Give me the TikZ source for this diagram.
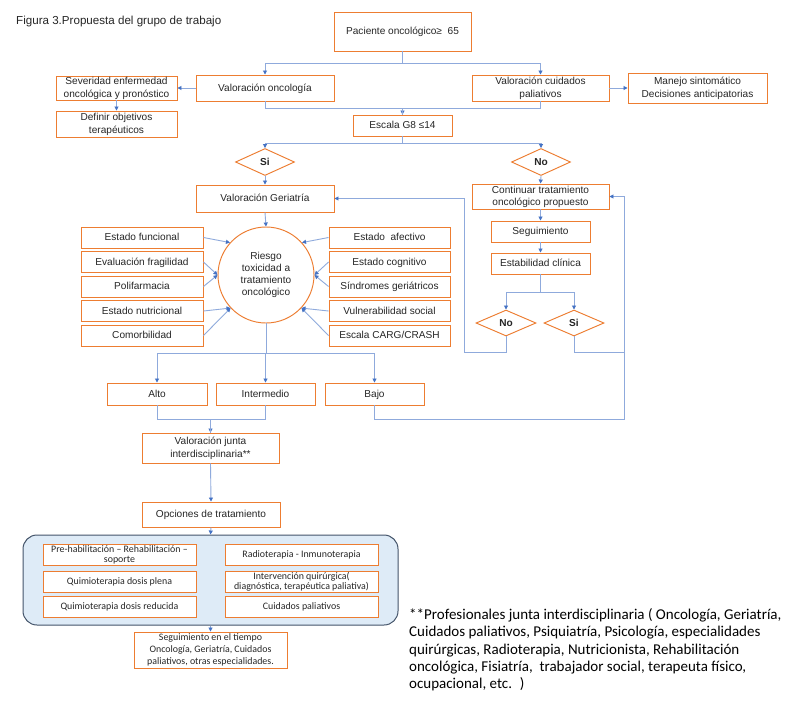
\documentclass[tikz,border=0pt]{standalone}
\usepackage{fontspec}
\setmainfont{Liberation Sans}
\newfontfamily\calfont{Carlito}
\usetikzlibrary{arrows.meta,shapes.geometric}
\definecolor{orng}{HTML}{ED7D31}
\definecolor{lnblue}{HTML}{8FAADC}
\definecolor{tipblue}{HTML}{4472C4}
\definecolor{grpfill}{HTML}{DEEBF7}
\definecolor{grpdraw}{HTML}{44546A}
\definecolor{txt}{HTML}{262626}
\begin{document}
\begin{tikzpicture}[x=1pt,y=-1pt,
  box/.style={draw=orng, line width=0.95pt, fill=white, inner sep=0pt, align=center, text=txt,
    font=\fontsize{10.1}{12.8}\selectfont},
  one/.style={text height=8pt, text depth=1.6pt},
  cbox/.style={box, font=\calfont\fontsize{9.9}{11}\selectfont},
  dia/.style={diamond, draw=orng, line width=0.95pt, fill=white, inner sep=0pt, aspect=2.2,
    text=txt, font=\bfseries\fontsize{10.1}{12}\selectfont, minimum width=59pt, minimum height=27pt,
    text height=7.4pt, text depth=0pt},
  ln/.style={draw=lnblue, line width=0.9pt},
  arr/.style={ln, -{Triangle[length=4pt,width=4pt,color=tipblue]}}
]
\fill[white] (0,0) rectangle (800,705);
\useasboundingbox (0,0) rectangle (800,705);

\node[anchor=west, inner sep=0pt, text=txt, font=\fontsize{11.6}{13}\selectfont] (title) at (16,21) {Figura 3.Propuesta del grupo de trabajo};

% top
\node[box, one, minimum width=137pt, minimum height=39pt] (pac) at (402.5,31.5) {Paciente oncológico≥ \ 65};
\node[box, one, minimum width=138pt, minimum height=26pt] (vonc) at (265,88) {Valoración oncología};
\node[box, minimum width=137pt, minimum height=26pt] (vcui) at (540.5,88) {Valoración cuidados\\paliativos};
\node[box, minimum width=121pt, minimum height=24pt] (sev) at (116.5,88) {Severidad enfermedad\\oncológica y pronóstico};
\node[box, minimum width=121pt, minimum height=26pt] (def) at (116.5,124) {Definir objetivos\\terapéuticos};
\node[box, minimum width=139pt, minimum height=30pt] (man) at (697.5,88) {Manejo sintomático\\Decisiones anticipatorias};
\node[box, one, minimum width=99pt, minimum height=21pt] (esc) at (402.5,125.5) {Escala G8 ≤14};
\node[dia] (dsi) at (265,162) {Si};
\node[dia] (dno) at (541,162) {No};

% geriatric branch
\node[box, one, minimum width=138pt, minimum height=27pt] (vger) at (265,198.5) {Valoración Geriatría};
\node[circle, draw=orng, line width=0.95pt, fill=white, minimum size=96pt, inner sep=0pt, align=center, text=txt,
  font=\fontsize{10.1}{12}\selectfont] (circ) at (266,275) {Riesgo\\toxicidad a\\tratamiento\\oncológico};

\node[box, one, minimum width=122pt, minimum height=21pt] (l1) at (142,237.5) {Estado funcional};
\node[box, one, minimum width=122pt, minimum height=21pt] (l2) at (142,262) {Evaluación fragilidad};
\node[box, one, minimum width=122pt, minimum height=21pt] (l3) at (142,286.5) {Polifarmacia};
\node[box, one, minimum width=122pt, minimum height=21pt] (l4) at (142,311) {Estado nutricional};
\node[box, one, minimum width=122pt, minimum height=21pt] (l5) at (142,335.5) {Comorbilidad};
\node[box, one, minimum width=121pt, minimum height=21pt] (r1) at (389.5,237.5) {Estado \ afectivo};
\node[box, one, minimum width=121pt, minimum height=21pt] (r2) at (389.5,262) {Estado cognitivo};
\node[box, one, minimum width=121pt, minimum height=21pt] (r3) at (389.5,286.5) {Síndromes geriátricos};
\node[box, one, minimum width=121pt, minimum height=21pt] (r4) at (389.5,311) {Vulnerabilidad social};
\node[box, one, minimum width=121pt, minimum height=21pt] (r5) at (389.5,335.5) {Escala CARG/CRASH};

% right branch
\node[box, minimum width=137pt, minimum height=25pt, font=\fontsize{10.1}{12}\selectfont] (cont) at (540.5,196.5) {Continuar tratamiento\\oncológico propuesto};
\node[box, one, minimum width=99pt, minimum height=21pt] (seg) at (540.5,231.5) {Seguimiento};
\node[box, one, minimum width=99pt, minimum height=21pt] (est) at (540.5,263.5) {Estabilidad clínica};
\node[dia, minimum width=60pt, minimum height=26pt] (dno2) at (506,323) {No};
\node[dia, minimum width=60pt, minimum height=26pt] (dsi2) at (574,323) {Si};

% risk levels
\node[box, one, minimum width=100pt, minimum height=22pt] (alto) at (157,394) {Alto};
\node[box, one, minimum width=99pt, minimum height=22pt] (inter) at (265.5,394) {Intermedio};
\node[box, one, minimum width=99pt, minimum height=22pt] (bajo) at (374.5,394) {Bajo};
\node[box, minimum width=137pt, minimum height=30pt] (junta) at (210.5,448) {Valoración junta\\interdisciplinaria**};
\node[box, one, minimum width=138pt, minimum height=25pt] (opc) at (211,514.5) {Opciones de tratamiento};

% treatment group
\node[draw=grpdraw, fill=grpfill, line width=1pt, rounded corners=14pt, minimum width=375pt, minimum height=90pt, inner sep=0pt] (grp) at (210.5,580) {};
\node[cbox, minimum width=153pt, minimum height=21pt, font=\calfont\fontsize{9.9}{10.2}\selectfont] (t1) at (119.5,554.5) {Pre-habilitación – Rehabilitación –\\soporte};
\node[cbox, one, minimum width=153pt, minimum height=21pt] (t2) at (119.5,581.5) {Quimioterapia dosis plena};
\node[cbox, one, minimum width=153pt, minimum height=21pt] (t3) at (119.5,606.5) {Quimioterapia dosis reducida};
\node[cbox, one, minimum width=153pt, minimum height=21pt] (t4) at (301.5,554.5) {Radioterapia - Inmunoterapia};
\node[cbox, minimum width=153pt, minimum height=21pt, font=\calfont\fontsize{9.9}{10.2}\selectfont] (t5) at (301.5,581.5) {Intervención quirúrgica(\\diagnóstica, terapéutica paliativa)};
\node[cbox, one, minimum width=153pt, minimum height=21pt] (t6) at (301.5,606.5) {Cuidados paliativos};
\node[cbox, minimum width=153pt, minimum height=36pt, font=\calfont\fontsize{9.9}{11.9}\selectfont] (segt) at (210.5,650) {Seguimiento en el tiempo\\Oncología, Geriatría, Cuidados\\paliativos, otras especialidades.};

% footnote
\node[anchor=north west, inner sep=0pt, align=left, text=black, font=\calfont\fontsize{15}{17.2}\selectfont] (fn) at (409,608.5)
{**Profesionales junta interdisciplinaria ( Oncología, Geriatría,\\
Cuidados paliativos, Psiquiatría, Psicología, especialidades\\
quirúrgicas, Radioterapia, Nutricionista, Rehabilitación\\
oncológica, Fisiatría, \ trabajador social, terapeuta físico,\\
ocupacional, etc. \ )};

% connectors
\draw[arr] (pac.south) -- ++(0,12) -| (vonc.north);
\draw[arr] (pac.south) -- ++(0,12) -| (vcui.north);
\draw[arr] (vonc.west) -- (sev.east);
\draw[arr] (sev.south) -- (def.north);
\draw[arr] (vcui.east) -- (man.west);
\draw[arr] (vonc.south) -- ++(0,7) -| (esc.north);
\draw[ln] (vcui.south) -- ++(0,7) -| (esc.north);
\draw[arr] (esc.south) -- ++(0,7) -| (dsi.north);
\draw[arr] (esc.south) -- ++(0,7) -| (dno.north);
\draw[arr] (dsi.south) -- (vger.north);
\draw[arr] (dno.south) -- (cont.north);
\draw[arr] (vger.south) -- (circ.north);

\draw[arr] (l1.east) -- (circ.138);
\draw[arr] (l2.east) -- (circ.180);
\draw[arr] (l3.east) -- (circ.180);
\draw[arr] (l4.east) -- (circ.223);
\draw[arr] (l5.east) -- (circ.223);
\draw[arr] (r1.west) -- (circ.42);
\draw[arr] (r2.west) -- (circ.0);
\draw[arr] (r3.west) -- (circ.0);
\draw[arr] (r4.west) -- (circ.-43);
\draw[arr] (r5.west) -- (circ.-43);

\draw[arr] (cont.south) -- (seg.north);
\draw[arr] (seg.south) -- (est.north);
\draw[arr] (est.south) -- ++(0,18) -| (dno2.north);
\draw[arr] (est.south) -- ++(0,18) -| (dsi2.north);

\coordinate (railL) at (464,352);
\coordinate (railR) at (624,352);
\coordinate (railB) at (624,419);
\draw[arr] (dno2.south) |- (railL) |- (vger.east);
\draw[arr] (dsi2.south) |- (railR) |- (cont.east);
\draw[ln] (bajo.south) |- (railB) -- (railR);

\draw[arr] (circ.south) -- ++(0,30) -| (alto.north);
\draw[arr] (circ.south) -- ++(0,30) -| (inter.north);
\draw[arr] (circ.south) -- ++(0,30) -| (bajo.north);
\draw[arr] (alto.south) -- ++(0,14) -| (junta.north);
\draw[ln] (inter.south) -- ++(0,14) -| (junta.north);
\draw[arr] (junta.south) -- (opc.north);
\draw[arr] (opc.south) -- (grp.north);
\draw[arr] (grp.south) -- (segt.north);
\end{tikzpicture}
\end{document}
